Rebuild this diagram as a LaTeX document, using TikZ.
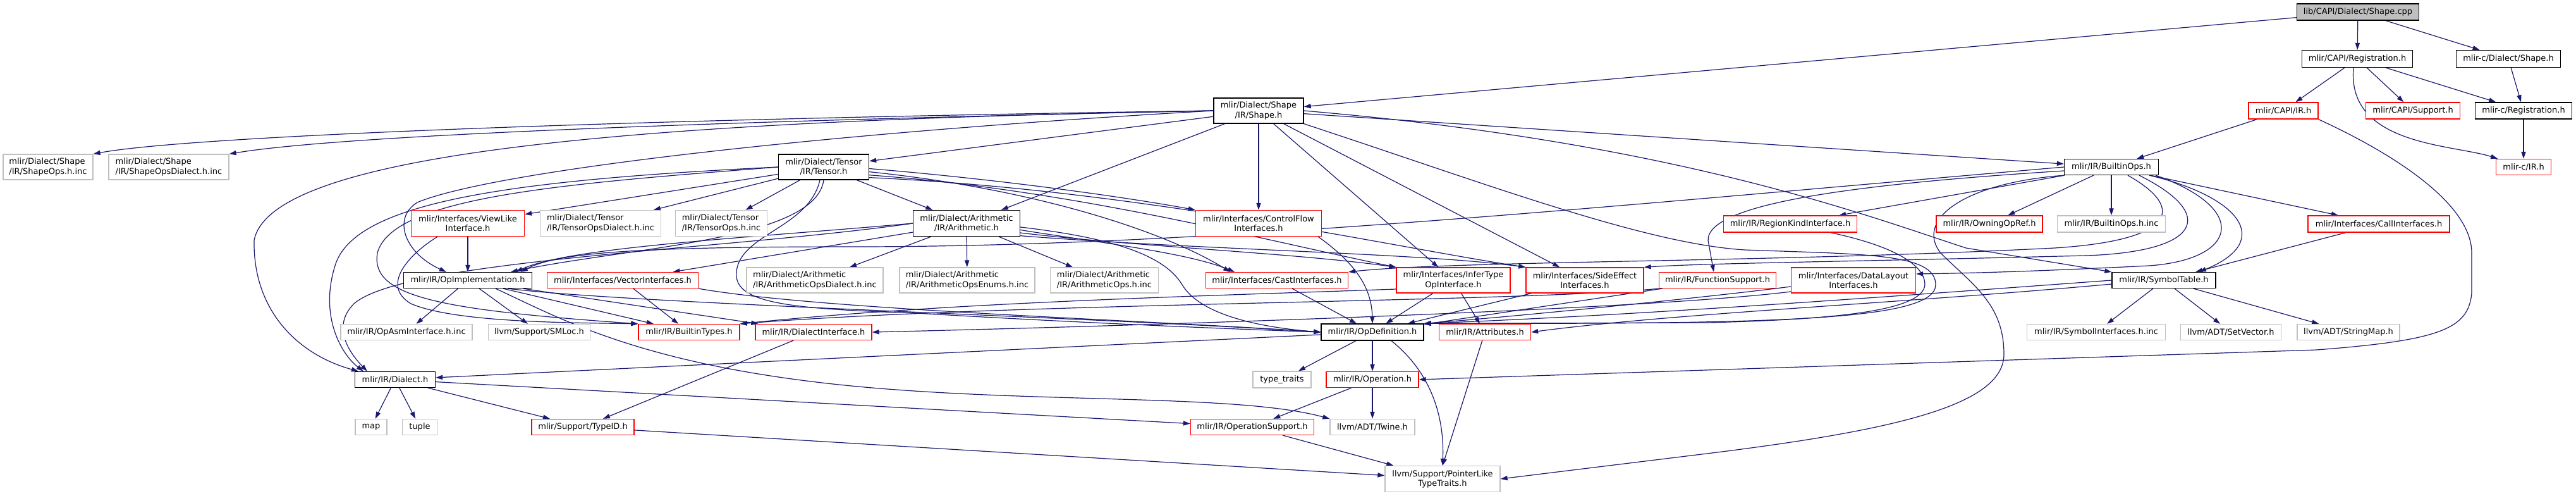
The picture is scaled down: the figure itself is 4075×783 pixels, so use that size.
\documentclass[tikz,border=0pt]{standalone}
\usepackage{fontspec}
\setmainfont{DejaVu Sans}
\usetikzlibrary{arrows.meta}
\pgfdeclarelayer{bg}
\pgfsetlayers{bg,main}
\definecolor{edgec}{RGB}{25,25,112}
\definecolor{grayb}{RGB}{191,191,191}
\definecolor{redb}{RGB}{255,0,0}
\newcommand{\gnode}[7]{\node[#1,minimum width=#5*0.5pt,minimum height=#6*0.5pt] (#2) at (#3,#4) {#7};}
\tikzset{
  base/.style={draw,fill=white,inner sep=0pt,line width=0.65pt,font=\fontsize{6.5}{7.6}\selectfont,align=center},
  blk/.style={base,draw=black},
  rd/.style={base,draw=redb},
  gr/.style={base,draw=grayb},
  grl/.style={base,draw=grayb,align=left},
  rootn/.style={base,draw=black,fill=grayb},
  e/.style={draw=edgec,line width=0.6pt,-{Triangle[length=5.5pt,width=3.6pt]}}
}
\begin{document}
\begin{tikzpicture}[x=0.5pt,y=-0.5pt]
\useasboundingbox (0,0) rectangle (4075,783);
% nodes
\gnode{rootn}{cpp}{3730}{19}{193}{26}{lib/CAPI/Dialect/Shape.cpp}
\gnode{blk}{reg}{3729}{93}{175}{27}{mlir/CAPI/Registration.h}
\gnode{blk}{cshape}{3968}{93}{165}{27}{mlir-c/Dialect/Shape.h}
\gnode{rd}{capiir}{3612}{175}{110}{26}{mlir/CAPI/IR.h}
\gnode{rd}{capisup}{3817}{175}{149}{26}{mlir/CAPI/Support.h}
\gnode{blk}{creg}{3992}{175}{153}{26}{mlir-c/Registration.h}
\gnode{rd}{cir}{3992}{264}{87}{25}{mlir-c/IR.h}
\gnode{blk}{bops}{3340}{264}{149}{25}{mlir/IR/BuiltinOps.h}
\gnode{blk}{shape}{1991}{175}{142}{40}{mlir/Dialect/Shape\\/IR/Shape.h}
\gnode{grl}{sopsinc}{76}{264}{142}{40}{mlir/Dialect/Shape\\/IR/ShapeOps.h.inc}
\gnode{grl}{sopsd}{267}{264}{190}{40}{mlir/Dialect/Shape\\/IR/ShapeOpsDialect.h.inc}
\gnode{blk}{tensor}{1303}{264}{143}{40}{mlir/Dialect/Tensor\\/IR/Tensor.h}
\gnode{rd}{viewlike}{740}{353}{179}{41}{mlir/Interfaces/ViewLike\\Interface.h}
\gnode{grl}{tdialect}{950}{353}{191}{41}{mlir/Dialect/Tensor\\/IR/TensorOpsDialect.h.inc}
\gnode{grl}{tops}{1141}{353}{145}{41}{mlir/Dialect/Tensor\\/IR/TensorOps.h.inc}
\gnode{blk}{arith}{1529}{353}{169}{41}{mlir/Dialect/Arithmetic\\/IR/Arithmetic.h}
\gnode{rd}{cf}{1991}{353}{199}{41}{mlir/Interfaces/ControlFlow\\Interfaces.h}
\gnode{rd}{region}{2832}{354}{211}{26}{mlir/IR/RegionKindInterface.h}
\gnode{rd}{owning}{3147}{354}{168}{26}{mlir/IR/OwningOpRef.h}
\gnode{gr}{bopsinc}{3340}{354}{171}{26}{mlir/IR/BuiltinOps.h.inc}
\gnode{rd}{callif}{3763}{354}{224}{26}{mlir/Interfaces/CallInterfaces.h}
\gnode{blk}{opimpl}{740}{443}{203}{25}{mlir/IR/OpImplementation.h}
\gnode{rd}{vecif}{985}{443}{239}{25}{mlir/Interfaces/VectorInterfaces.h}
\gnode{grl}{arithd}{1289}{443}{216}{40}{mlir/Dialect/Arithmetic\\/IR/ArithmeticOpsDialect.h.inc}
\gnode{grl}{arithe}{1530}{443}{214}{40}{mlir/Dialect/Arithmetic\\/IR/ArithmeticOpsEnums.h.inc}
\gnode{grl}{aritho}{1747}{443}{171}{40}{mlir/Dialect/Arithmetic\\/IR/ArithmeticOps.h.inc}
\gnode{rd}{cast}{2020}{443}{225}{25}{mlir/Interfaces/CastInterfaces.h}
\gnode{rd}{infer}{2299}{443}{180}{40}{mlir/Interfaces/InferType\\OpInterface.h}
\gnode{rd}{side}{2507}{443}{186}{40}{mlir/Interfaces/SideEffect\\Interfaces.h}
\gnode{rd}{func}{2717}{443}{185}{25}{mlir/IR/FunctionSupport.h}
\gnode{rd}{dl}{2932}{443}{197}{40}{mlir/Interfaces/DataLayout\\Interfaces.h}
\gnode{blk}{symtab}{3423}{443}{164}{25}{mlir/IR/SymbolTable.h}
\gnode{gr}{opasm}{643}{525}{208}{25}{mlir/IR/OpAsmInterface.h.inc}
\gnode{gr}{smloc}{853}{525}{161}{25}{llvm/Support/SMLoc.h}
\gnode{rd}{btypes}{1090}{525}{160}{25}{mlir/IR/BuiltinTypes.h}
\gnode{rd}{dialif}{1287}{525}{184}{25}{mlir/IR/DialectInterface.h}
\gnode{blk}{opdef}{2171}{525}{162}{26}{mlir/IR/OpDefinition.h}
\gnode{rd}{attrs}{2349}{525}{145}{25}{mlir/IR/Attributes.h}
\gnode{gr}{syminc}{3316}{525}{219}{25}{mlir/IR/SymbolInterfaces.h.inc}
\gnode{gr}{setvec}{3529}{525}{159}{25}{llvm/ADT/SetVector.h}
\gnode{gr}{strmap}{3715}{525}{162}{25}{llvm/ADT/StringMap.h}
\gnode{blk}{dialect}{625}{600}{127}{25}{mlir/IR/Dialect.h}
\gnode{gr}{typetraits}{2028}{600}{92}{26}{type\_traits}
\gnode{rd}{operation}{2171}{600}{146}{25}{mlir/IR/Operation.h}
\gnode{gr}{map}{587}{675}{50}{25}{map}
\gnode{gr}{tuple}{664}{675}{55}{25}{tuple}
\gnode{rd}{typeid}{922}{675}{162}{25}{mlir/Support/TypeID.h}
\gnode{rd}{opsupp}{1981}{675}{195}{25}{mlir/IR/OperationSupport.h}
\gnode{gr}{twine}{2171}{675}{134}{25}{llvm/ADT/Twine.h}
\gnode{gr}{ptrlike}{2282}{757}{182}{41}{llvm/Support/PointerLike\\TypeTraits.h}
\begin{pgfonlayer}{bg}
% root and C API
\draw[e] (cpp) -- (shape);
\draw[e] (cpp) -- (reg);
\draw[e] (cpp) -- (cshape);
\draw[e] (reg) -- (capiir);
\draw[e] (reg) -- (capisup);
\draw[e] (reg) -- (creg);
\draw[e] ([xshift=-3pt]reg.south) .. controls (3712,230) and (3880,228) .. (cir);
\draw[e] (cshape) -- (creg);
\draw[e] (creg) -- (cir);
\draw[e] (capiir) -- (bops);
\draw[e] (capiir.south east) .. controls (3780,240) and (3910,320) .. (3910,400) -- (3910,463) .. controls (3905,520) and (3860,538) .. (3665,553) -- (operation.east);
% Shape.h
\draw[e] (shape.west) .. controls (1000,188) and (300,215) .. (sopsinc.north east);
\draw[e] (shape.west) .. controls (1200,190) and (550,212) .. (sopsd.north east);
\draw[e] (shape.west) .. controls (1100,190) and (430,230) .. (402,380) .. controls (400,490) and (470,560) .. ([xshift=3pt]dialect.north west);
\draw[e] (shape.west) .. controls (1300,210) and (780,270) .. (660,320) .. controls (620,345) and (640,400) .. ([xshift=-17pt]opimpl.north);
\draw[e] (shape) -- (tensor);
\draw[e] (shape) -- (arith);
\draw[e] (shape) -- (cf);
\draw[e] (shape) -- (infer);
\draw[e] (shape) -- (side);
\draw[e] (shape) -- (bops);
\draw[e] (shape.east) .. controls (2650,225) and (2950,340) .. (3110,392) -- (symtab.north west);
\draw[e] (shape.south east) .. controls (2350,290) and (2600,385) .. (2760,395) .. controls (2950,402) and (3062,400) .. (3062,450) .. controls (3062,508) and (2800,512) .. (opdef.north east);
% Tensor.h
\draw[e] (tensor) -- (arith);
\draw[e] (tensor) -- (tdialect);
\draw[e] (tensor) -- (tops);
\draw[e] (tensor) -- (viewlike);
\draw[e] (tensor.west) .. controls (800,285) and (560,320) .. (530,420) .. controls (505,500) and (540,560) .. ([xshift=7pt]dialect.north west);
\draw[e] (tensor.west) .. controls (900,290) and (620,310) .. (597,400) .. controls (585,470) and (700,490) .. (btypes.north west);
\draw[e] (tensor.south) .. controls (1290,380) and (1000,390) .. ([xshift=34pt]opimpl.north);
\draw[e] ([xshift=-3pt]tensor.south) .. controls (1280,360) and (1170,370) .. (1165,430) .. controls (1160,480) and (1250,488) .. (1450,495) .. controls (1700,510) and (1950,520) .. (opdef.west);
\draw[e] (tensor.-2) .. controls (1600,285) and (1800,315) .. (cf.north west);
\draw[e] (tensor.-6) .. controls (1650,300) and (1850,370) .. ([xshift=-37pt]cast.north);
\draw[e] (tensor.-10) .. controls (1700,300) and (2000,380) .. (infer.north west);
\draw[e] (tensor.-13) .. controls (1800,300) and (2200,390) .. (side.north west);
% Arithmetic.h
\draw[e] (arith.west) .. controls (1150,395) and (640,410) .. (560,480) .. controls (520,520) and (560,565) .. ([xshift=10pt]dialect.north west);
\draw[e] (arith.west) .. controls (1200,375) and (900,390) .. ([xshift=38pt]opimpl.north);
\draw[e] (arith) -- (vecif);
\draw[e] (arith) -- (arithd);
\draw[e] (arith) -- (arithe);
\draw[e] (arith) -- (aritho);
\draw[e] (arith.-4) .. controls (1750,375) and (1840,400) .. (1870,450) .. controls (1900,500) and (2000,518) .. (opdef.west);
\draw[e] (arith.-7) .. controls (1750,385) and (1880,400) .. ([xshift=-33.5pt]cast.north);
\draw[e] (arith.-10) .. controls (1800,390) and (2050,400) .. (infer.north west);
\draw[e] (arith.-13) .. controls (1900,395) and (2250,400) .. (side.north west);
% interfaces
\draw[e] (viewlike) -- (opimpl);
\draw[e] ([xshift=-24pt]viewlike.south) .. controls (650,400) and (600,450) .. (650,480) .. controls (720,510) and (900,510) .. (btypes.north west);
\draw[e] (vecif) -- (btypes);
\draw[e] (vecif.south east) .. controls (1300,490) and (1800,505) .. (opdef.west);
\draw[e] ([xshift=-3pt]cf.south east) .. controls (2150,420) and (2170,460) .. (opdef.north);
\draw[e] (cast) -- (opdef);
\draw[e] (infer) -- (opdef);
\draw[e] (infer) -- (attrs);
\draw[e] ([yshift=-7pt]infer.west) .. controls (1900,468) and (1500,478) .. (btypes.north east);
\draw[e] (side) -- (opdef);
\draw[e] (func) -- (opdef);
\draw[e] (func.south west) .. controls (2400,478) and (1600,478) .. (btypes.north east);
\draw[e] ([yshift=-9pt]dl.west) .. controls (2600,490) and (1800,515) .. (dialif.east);
\draw[e] ([yshift=-5pt]dl.west) .. controls (2700,470) and (2400,500) .. (opdef.north east);
\draw[e] ([xshift=32pt]region.south) .. controls (3000,390) and (3045,420) .. (3045,450) .. controls (3042,492) and (2900,505) .. (2700,510) -- (opdef.north east);
\draw[e] (callif) -- (symtab);
% OpImplementation.h
\draw[e] (opimpl) -- (opasm);
\draw[e] (opimpl) -- (smloc);
\draw[e] (opimpl) -- (btypes);
\draw[e] (opimpl) -- (dialif);
\draw[e] ([xshift=32pt]opimpl.south) .. controls (1000,480) and (1700,500) .. (opdef.west);
\draw[e] ([xshift=22pt]opimpl.south) .. controls (880,500) and (1000,570) .. (1300,605) .. controls (1600,640) and (1950,620) .. (twine.north west);
% SymbolTable.h
\draw[e] (symtab.west) .. controls (3000,468) and (2600,498) .. (opdef.north east);
\draw[e] ([yshift=-3pt]symtab.west) .. controls (3000,480) and (2650,495) .. (attrs.east);
\draw[e] (symtab) -- (syminc);
\draw[e] (symtab) -- (setvec);
\draw[e] (symtab) -- (strmap);
% BuiltinOps.h
\draw[e] (bops.west) .. controls (2500,330) and (1900,390) .. (1350,390) .. controls (1000,390) and (880,400) .. ([xshift=42pt]opimpl.north);
\draw[e] ([yshift=-3pt]bops.west) .. controls (2950,290) and (2700,320) .. (2702,380) -- ([xshift=-3pt]func.north);
\draw[e] (bops) -- (region);
\draw[e] (bops) -- (owning);
\draw[e] (bops) -- (bopsinc);
\draw[e] (bops.south west) .. controls (3100,290) and (3030,350) .. (3070,400) .. controls (3120,450) and (3170,480) .. (3170,560) .. controls (3170,640) and (3000,680) .. (2700,717) -- (ptrlike.east);
\draw[e] ([xshift=13pt]bops.south) .. controls (3460,330) and (3440,380) .. (3250,392) .. controls (2800,415) and (2300,412) .. (cast.north east);
\draw[e] ([xshift=22pt]bops.south) .. controls (3510,340) and (3480,398) .. (3300,404) .. controls (2900,414) and (2700,416) .. (side.north east);
\draw[e] ([xshift=35pt]bops.south) .. controls (3560,330) and (3540,410) .. (3400,420) .. controls (3200,430) and (3100,432) .. ([yshift=5pt]dl.east);
\draw[e] (bops) -- (callif);
\draw[e] ([xshift=30pt]bops.south) .. controls (3540,310) and (3600,380) .. ([xshift=28pt]symtab.north);
% lower part
\draw[e] (dialect) -- (map);
\draw[e] (dialect) -- (tuple);
\draw[e] (dialect) -- (typeid);
\draw[e] (dialect) -- (opsupp);
\draw[e] (dialif) -- (typeid);
\draw[e] (typeid) -- (ptrlike);
\draw[e] (opdef) -- (dialect);
\draw[e] (opdef) -- (typetraits);
\draw[e] (opdef) -- (operation);
\draw[e] ([xshift=15pt]opdef.south) .. controls (2265,590) and (2285,660) .. (ptrlike.north);
\draw[e] (attrs) -- (ptrlike.north);
\draw[e] (operation) -- (opsupp);
\draw[e] (operation) -- (twine);
\draw[e] (opsupp) -- (ptrlike);
\end{pgfonlayer}
\end{tikzpicture}
\end{document}
